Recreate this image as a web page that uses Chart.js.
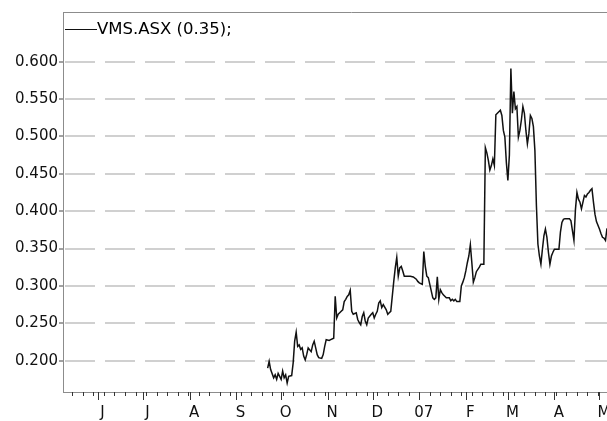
<!DOCTYPE html>
<html>
<head>
<meta charset="utf-8">
<script src="https://cdn.jsdelivr.net/npm/chart.js@4.4.0/dist/chart.umd.min.js"></script>
<style>
    html, body { margin: 0; padding: 0; background: #fff; overflow: hidden; }
    #wrap { width: 640px; height: 435px; }
</style>
</head>
<body>
<div id="wrap"><canvas id="chart" width="640" height="435"></canvas></div>
<script>
// 日期: 以 2006-06-01 起算的天數
const days = [
    113, 114, 115, 117, 118, 119, 120, 122, 123, 124, 125, 126, 127, 129, 130, 131, 132, 133, 134, 135,
    136, 137, 138, 139, 140, 142, 143, 144, 145, 146, 147, 149, 150, 151, 152, 154, 155, 157, 158, 159,
    160, 161, 162, 163, 164, 165, 166, 167, 168, 169, 170, 172, 173, 174, 175, 176, 177, 178, 179, 180,
    182, 183, 184, 185, 186, 187, 188, 189, 190, 192, 193, 194, 195, 196, 197, 198, 199, 200, 201, 202,
    203, 204, 206, 208, 210, 212, 213, 214, 216, 217, 218, 219, 220, 221, 222, 223, 224, 225, 226, 227,
    228, 229, 230, 232, 234, 235, 236, 237, 238, 239, 240, 241, 242, 243, 244, 245, 246, 247, 248, 249,
    250, 251, 252, 254, 255, 256, 257, 258, 259, 260, 261, 262, 263, 264, 265, 266, 267, 268, 269, 270,
    271, 272, 273, 274, 275, 276, 277, 278, 279, 280, 281, 282, 283, 284, 285, 286, 287, 288, 289, 290,
    291, 292, 293, 294, 295, 296, 297, 298, 299, 300, 301, 302, 303, 304, 305, 307, 308, 309, 310, 311,
    312, 314, 315, 316, 317, 318, 319, 320, 321, 322, 323, 324, 325, 326, 327, 328, 329, 330, 331, 332,
    334, 335, 336, 337, 338, 339
];

// 收盤價
const prices = [
    0.190, 0.199, 0.188, 0.177, 0.181, 0.175, 0.183, 0.175, 0.186, 0.177, 0.181, 0.170, 0.179, 0.180, 0.197, 0.226, 0.238, 0.219, 0.221, 0.215,
    0.217, 0.206, 0.201, 0.208, 0.217, 0.212, 0.221, 0.226, 0.217, 0.208, 0.204, 0.203, 0.208, 0.219, 0.228, 0.227, 0.228, 0.230, 0.286, 0.257,
    0.262, 0.264, 0.266, 0.268, 0.279, 0.282, 0.286, 0.288, 0.294, 0.266, 0.262, 0.264, 0.255, 0.251, 0.248, 0.259, 0.264, 0.253, 0.248, 0.257,
    0.262, 0.264, 0.257, 0.262, 0.266, 0.277, 0.280, 0.271, 0.275, 0.268, 0.262, 0.264, 0.266, 0.286, 0.306, 0.324, 0.338, 0.313, 0.324, 0.326,
    0.320, 0.313, 0.313, 0.313, 0.312, 0.309, 0.306, 0.304, 0.302, 0.346, 0.326, 0.313, 0.311, 0.302, 0.293, 0.284, 0.282, 0.284, 0.312, 0.282,
    0.295, 0.291, 0.288, 0.284, 0.284, 0.280, 0.282, 0.280, 0.282, 0.279, 0.279, 0.279, 0.300, 0.305, 0.311, 0.320, 0.331, 0.340, 0.355, 0.331,
    0.305, 0.311, 0.319, 0.325, 0.329, 0.329, 0.329, 0.485, 0.478, 0.468, 0.455, 0.461, 0.470, 0.461, 0.529, 0.531, 0.533, 0.535, 0.528, 0.508,
    0.499, 0.465, 0.441, 0.475, 0.591, 0.531, 0.560, 0.537, 0.540, 0.499, 0.508, 0.522, 0.540, 0.531, 0.508, 0.490, 0.504, 0.528, 0.524, 0.513,
    0.481, 0.408, 0.356, 0.340, 0.329, 0.349, 0.367, 0.376, 0.365, 0.345, 0.329, 0.340, 0.345, 0.349, 0.349, 0.349, 0.372, 0.385, 0.389, 0.390,
    0.390, 0.390, 0.387, 0.374, 0.361, 0.402, 0.425, 0.416, 0.412, 0.403, 0.412, 0.421, 0.419, 0.423, 0.425, 0.428, 0.430, 0.412, 0.396, 0.386,
    0.376, 0.370, 0.365, 0.364, 0.361, 0.377
];

// 座標軸刻度
const monthStarts = [0, 30, 61, 92, 122, 153, 183, 214, 245, 273, 304, 334];
const monthLabels = ['J', 'J', 'A', 'S', 'O', 'N', 'D', '07', 'F', 'M', 'A', 'M'];
const yTicks = [0.2, 0.25, 0.3, 0.35, 0.4, 0.45, 0.5, 0.55, 0.6];
const seriesLabel = 'VMS.ASX (0.35);';

const xMin = -23.3;
const xMax = 361;
const font = { family: 'DejaVu Sans', size: 15 };

// 上框線、X 軸月/週刻度與圖例
const frameTicks = {
    id: 'frameTicks',
    afterDraw(chart) {
        const { ctx, chartArea } = chart;
        const x = chart.scales.x;
        const bottom = chartArea.bottom;
        ctx.save();
        ctx.lineWidth = 1;
        ctx.strokeStyle = '#8c8c8c';
        ctx.beginPath();
        ctx.moveTo(chartArea.left, chartArea.top + 0.5);
        ctx.lineTo(chartArea.right, chartArea.top + 0.5);
        ctx.stroke();

        ctx.strokeStyle = '#333';
        ctx.beginPath();
        // 每週一 (2006-06-05 為週一)
        for (let d = 4 - 7 * 4; d <= xMax; d += 7) {
            if (d < xMin) continue;
            const px = Math.round(x.getPixelForValue(d)) + 0.5;
            ctx.moveTo(px, bottom);
            ctx.lineTo(px, bottom + 4);
        }
        monthStarts.forEach(d => {
            const px = Math.round(x.getPixelForValue(d)) + 0.5;
            ctx.moveTo(px, bottom);
            ctx.lineTo(px, bottom + 8);
        });
        ctx.stroke();

        // 圖例
        const ds = chart.data.datasets[0];
        const ly = chartArea.top + 17.5;
        ctx.strokeStyle = ds.borderColor;
        ctx.lineWidth = 1;
        ctx.beginPath();
        ctx.moveTo(chartArea.left + 2, ly);
        ctx.lineTo(chartArea.left + 34, ly);
        ctx.stroke();
        ctx.fillStyle = '#000';
        ctx.font = '16.5px "DejaVu Sans"';
        ctx.textBaseline = 'middle';
        ctx.textAlign = 'left';
        ctx.fillText(ds.label, chartArea.left + 34, ly);
        ctx.restore();
    }
};

new Chart(document.getElementById('chart'), {
    type: 'line',
    data: {
        datasets: [{
            label: seriesLabel,
            data: days.map((d, i) => ({ x: d, y: prices[i] })),
            borderColor: '#111',
            backgroundColor: '#111',
            borderWidth: 1.5,
            pointRadius: 0,
            tension: 0,
            fill: false
        }]
    },
    options: {
        responsive: false,
        animation: false,
        devicePixelRatio: 1,
        layout: { padding: { top: 12, left: 0, right: 0, bottom: 0 } },
        plugins: {
            tooltip: { enabled: false },
            legend: { display: false }
        },
        scales: {
            x: {
                type: 'linear',
                min: xMin,
                max: xMax,
                afterBuildTicks: s => { s.ticks = monthStarts.map(d => ({ value: d + 3 })); },
                ticks: {
                    autoSkip: false,
                    maxRotation: 0,
                    padding: 14,
                    color: '#111',
                    font: { family: 'DejaVu Sans', size: 15, lineHeight: 1 },
                    callback: (v, i) => monthLabels[i]
                },
                grid: { display: false, drawTicks: false },
                border: { color: '#8c8c8c' }
            },
            y: {
                min: 0.158,
                max: 0.6665,
                afterBuildTicks: s => { s.ticks = yTicks.map(v => ({ value: v })); },
                afterFit: s => { s.width = 63; },
                ticks: {
                    padding: 1,
                    color: '#111',
                    font: font,
                    callback: v => v.toFixed(3)
                },
                grid: { color: '#d0d0d0', tickColor: '#444', tickLength: 4, tickWidth: 1, lineWidth: 2 },
                border: { color: '#8c8c8c', dash: [30, 10], dashOffset: -1 }
            }
        }
    },
    plugins: [frameTicks]
});
</script>
</body>
</html>
